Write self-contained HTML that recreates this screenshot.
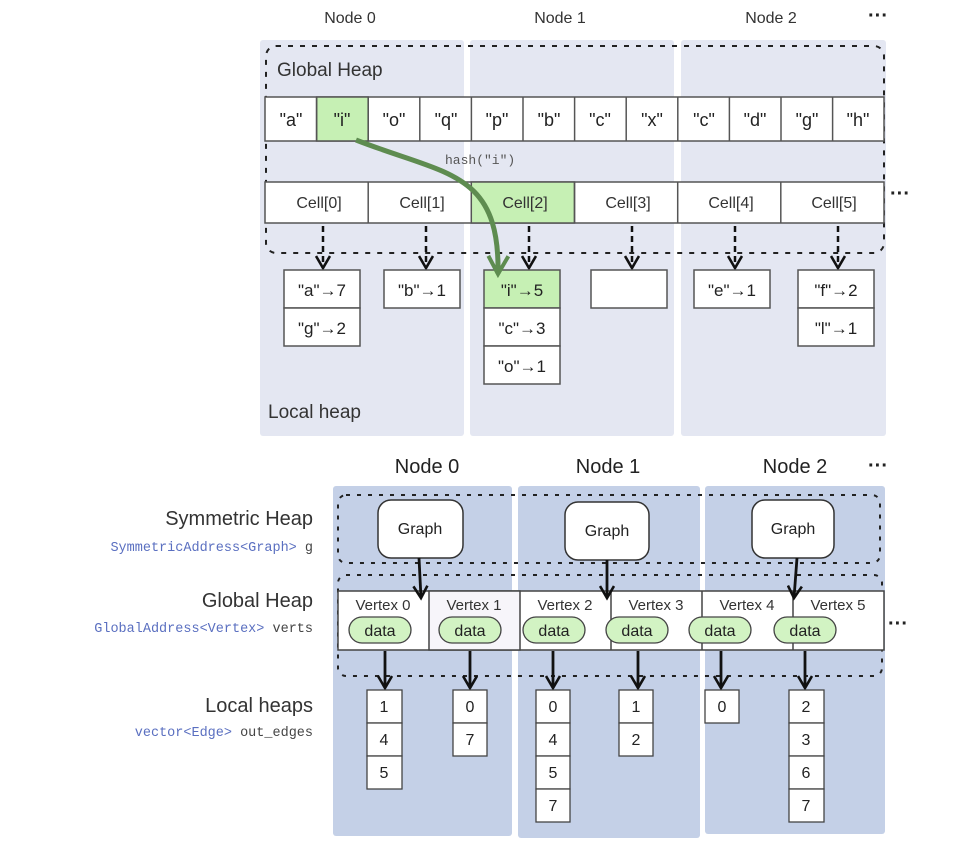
<!DOCTYPE html>
<html><head><meta charset="utf-8"><style>
html,body{margin:0;padding:0;background:#fff;}
svg{display:block;font-family:"Liberation Sans",Arial,sans-serif;}
.m{font-family:"Liberation Mono",monospace;}
</style></head><body>
<svg width="956" height="845" viewBox="0 0 956 845" xmlns="http://www.w3.org/2000/svg">
<defs>
<marker id="ah" markerWidth="16" markerHeight="16" refX="13" refY="8" orient="auto" markerUnits="userSpaceOnUse" viewBox="0 0 16 16">
<path d="M1,1 L13,8 L1,15" fill="none" stroke="#111" stroke-width="2.6"/></marker>
<marker id="ag" markerWidth="24" markerHeight="24" refX="20" refY="12" orient="auto" markerUnits="userSpaceOnUse" viewBox="0 0 24 24">
<path d="M2,2 L20,12 L2,22" fill="none" stroke="#5e8c50" stroke-width="4"/></marker>
</defs>
<g font-size="16" fill="#333" text-anchor="middle">
<text x="350" y="23">Node 0</text><text x="560" y="23">Node 1</text><text x="771" y="23">Node 2</text>
</g>
<text x="868" y="22" font-size="20" font-weight="bold" fill="#222">···</text>
<rect x="260" y="40" width="204" height="396" rx="3" fill="#e4e7f2"/>
<rect x="470" y="40" width="204" height="396" rx="3" fill="#e4e7f2"/>
<rect x="681" y="40" width="205" height="396" rx="3" fill="#e4e7f2"/>
<rect x="266" y="46" width="618" height="207" rx="10" fill="none" stroke="#222" stroke-width="2" stroke-dasharray="5,7"/>
<text x="277" y="76" font-size="19" fill="#333">Global Heap</text>
<g stroke="#555" stroke-width="1.5" fill="#fff">
<rect x="265" y="97" width="619" height="44"/>
<rect x="316.6" y="97" width="51.6" height="44" fill="#c6f0b4"/>
</g>
<g stroke="#555" stroke-width="1.5">
<line x1="316.6" y1="97" x2="316.6" y2="141"/><line x1="368.2" y1="97" x2="368.2" y2="141"/><line x1="419.8" y1="97" x2="419.8" y2="141"/><line x1="471.4" y1="97" x2="471.4" y2="141"/><line x1="523" y1="97" x2="523" y2="141"/><line x1="574.6" y1="97" x2="574.6" y2="141"/><line x1="626.2" y1="97" x2="626.2" y2="141"/><line x1="677.8" y1="97" x2="677.8" y2="141"/><line x1="729.4" y1="97" x2="729.4" y2="141"/><line x1="781" y1="97" x2="781" y2="141"/><line x1="832.6" y1="97" x2="832.6" y2="141"/>
</g>
<g font-size="18" fill="#222" text-anchor="middle">
<text x="291" y="126">"a"</text><text x="342" y="126">"i"</text><text x="394" y="126">"o"</text><text x="446" y="126">"q"</text><text x="497" y="126">"p"</text><text x="549" y="126">"b"</text><text x="600" y="126">"c"</text><text x="652" y="126">"x"</text><text x="704" y="126">"c"</text><text x="755" y="126">"d"</text><text x="807" y="126">"g"</text><text x="858" y="126">"h"</text>
</g>
<text x="445" y="164" class="m" font-size="13" fill="#555">hash("i")</text>
<g stroke="#555" stroke-width="1.5" fill="#fff">
<rect x="265" y="182" width="619" height="41"/>
<rect x="471.3" y="182" width="103.2" height="41" fill="#c6f0b4"/>
<line x1="368.2" y1="182" x2="368.2" y2="223"/><line x1="574.5" y1="182" x2="574.5" y2="223"/><line x1="677.7" y1="182" x2="677.7" y2="223"/><line x1="780.8" y1="182" x2="780.8" y2="223"/>
</g>
<g font-size="16" fill="#333" text-anchor="middle">
<text x="319" y="208">Cell[0]</text><text x="422" y="208">Cell[1]</text><text x="525" y="208">Cell[2]</text><text x="628" y="208">Cell[3]</text><text x="731" y="208">Cell[4]</text><text x="834" y="208">Cell[5]</text>
</g>
<text x="890" y="200" font-size="20" font-weight="bold" fill="#222">···</text>
<g stroke="#111" stroke-width="2.5" stroke-dasharray="6,4" marker-end="url(#ah)">
<line x1="323" y1="226" x2="323" y2="268"/><line x1="426" y1="226" x2="426" y2="268"/><line x1="529" y1="226" x2="529" y2="268"/><line x1="632" y1="226" x2="632" y2="268"/><line x1="735" y1="226" x2="735" y2="268"/><line x1="838" y1="226" x2="838" y2="268"/>
</g>
<g stroke="#555" stroke-width="1.5" fill="#fff">
<rect x="284" y="270" width="76" height="38"/><rect x="284" y="308" width="76" height="38"/>
<rect x="384" y="270" width="76" height="38"/>
<rect x="484" y="270" width="76" height="38" fill="#c6f0b4"/><rect x="484" y="308" width="76" height="38"/><rect x="484" y="346" width="76" height="38"/>
<rect x="591" y="270" width="76" height="38"/>
<rect x="694" y="270" width="76" height="38"/>
<rect x="798" y="270" width="76" height="38"/><rect x="798" y="308" width="76" height="38"/>
</g>
<g font-size="17" fill="#222" text-anchor="middle">
<text x="322" y="296">"a"→7</text><text x="322" y="334">"g"→2</text>
<text x="422" y="296">"b"→1</text>
<text x="522" y="296">"i"→5</text><text x="522" y="334">"c"→3</text><text x="522" y="372">"o"→1</text>
<text x="732" y="296">"e"→1</text>
<text x="836" y="296">"f"→2</text><text x="836" y="334">"l"→1</text>
</g>
<path d="M356 140 C 445 175, 500 170, 498 274" fill="none" stroke="#5e8c50" stroke-width="5" marker-end="url(#ag)"/>
<text x="268" y="418" font-size="19" fill="#333">Local heap</text>

<g font-size="20" fill="#222" text-anchor="middle">
<text x="427" y="473">Node 0</text><text x="608" y="473">Node 1</text><text x="795" y="473">Node 2</text>
</g>
<text x="868" y="472" font-size="20" font-weight="bold" fill="#222">···</text>
<rect x="333" y="486" width="179" height="350" rx="3" fill="#c4d0e7"/>
<rect x="518" y="486" width="182" height="352" rx="3" fill="#c4d0e7"/>
<rect x="705" y="486" width="180" height="348" rx="3" fill="#c4d0e7"/>
<g fill="none" stroke="#222" stroke-width="2" stroke-dasharray="4,7">
<rect x="338" y="495" width="542" height="68" rx="8"/>
<rect x="338" y="575" width="544" height="101" rx="8"/>
</g>
<g fill="#fff" stroke="#333" stroke-width="1.5">
<rect x="378" y="500" width="85" height="58" rx="13"/>
<rect x="565" y="502" width="84" height="58" rx="13"/>
<rect x="752" y="500" width="82" height="58" rx="13"/>
</g>
<g font-size="16" fill="#222" text-anchor="middle">
<text x="420" y="534">Graph</text><text x="607" y="536">Graph</text><text x="793" y="534">Graph</text>
</g>
<g fill="#fff" stroke="#444" stroke-width="1.5">
<rect x="338" y="591" width="546" height="59"/>
<rect x="429" y="591" width="91" height="59" fill="#f7f5fa"/>
<line x1="611" y1="591" x2="611" y2="650"/><line x1="702" y1="591" x2="702" y2="650"/><line x1="793" y1="591" x2="793" y2="650"/>
</g>
<g font-size="15" fill="#333" text-anchor="middle">
<text x="383" y="610">Vertex 0</text><text x="474" y="610">Vertex 1</text><text x="565" y="610">Vertex 2</text><text x="656" y="610">Vertex 3</text><text x="747" y="610">Vertex 4</text><text x="838" y="610">Vertex 5</text>
</g>
<g fill="#d2f3c3" stroke="#444" stroke-width="1.3">
<rect x="349" y="617" width="62" height="26" rx="13"/><rect x="439" y="617" width="62" height="26" rx="13"/><rect x="523" y="617" width="62" height="26" rx="13"/><rect x="606" y="617" width="62" height="26" rx="13"/><rect x="689" y="617" width="62" height="26" rx="13"/><rect x="774" y="617" width="62" height="26" rx="13"/>
</g>
<g font-size="16" fill="#222" text-anchor="middle">
<text x="380" y="636">data</text><text x="470" y="636">data</text><text x="554" y="636">data</text><text x="637" y="636">data</text><text x="720" y="636">data</text><text x="805" y="636">data</text>
</g>
<text x="888" y="630" font-size="20" font-weight="bold" fill="#222">···</text>
<g stroke="#111" stroke-width="2.8" marker-end="url(#ah)">
<line x1="419" y1="558" x2="421" y2="598"/><line x1="607" y1="560" x2="607" y2="598"/><line x1="797" y1="558" x2="794" y2="598"/>
<line x1="385" y1="651" x2="385" y2="688"/><line x1="470" y1="651" x2="470" y2="688"/><line x1="553" y1="651" x2="553" y2="688"/><line x1="638" y1="651" x2="638" y2="688"/><line x1="721" y1="651" x2="721" y2="688"/><line x1="805" y1="651" x2="805" y2="688"/>
</g>
<g fill="#fff" stroke="#444" stroke-width="1.3">
<rect x="367" y="690" width="35" height="33"/><rect x="367" y="723" width="35" height="33"/><rect x="367" y="756" width="35" height="33"/>
<rect x="453" y="690" width="34" height="33"/><rect x="453" y="723" width="34" height="33"/>
<rect x="536" y="690" width="34" height="33"/><rect x="536" y="723" width="34" height="33"/><rect x="536" y="756" width="34" height="33"/><rect x="536" y="789" width="34" height="33"/>
<rect x="619" y="690" width="34" height="33"/><rect x="619" y="723" width="34" height="33"/>
<rect x="705" y="690" width="34" height="33"/>
<rect x="789" y="690" width="35" height="33"/><rect x="789" y="723" width="35" height="33"/><rect x="789" y="756" width="35" height="33"/><rect x="789" y="789" width="35" height="33"/>
</g>
<g font-size="16" fill="#222" text-anchor="middle">
<text x="384" y="712">1</text><text x="384" y="745">4</text><text x="384" y="778">5</text>
<text x="470" y="712">0</text><text x="470" y="745">7</text>
<text x="553" y="712">0</text><text x="553" y="745">4</text><text x="553" y="778">5</text><text x="553" y="811">7</text>
<text x="636" y="712">1</text><text x="636" y="745">2</text>
<text x="722" y="712">0</text>
<text x="806" y="712">2</text><text x="806" y="745">3</text><text x="806" y="778">6</text><text x="806" y="811">7</text>
</g>
<g text-anchor="end">
<text x="313" y="525" font-size="20" fill="#333">Symmetric Heap</text>
<text x="313" y="551" class="m" font-size="13.5"><tspan fill="#5a6fc0">SymmetricAddress&lt;Graph&gt;</tspan><tspan fill="#444"> g</tspan></text>
<text x="313" y="607" font-size="20" fill="#333">Global Heap</text>
<text x="313" y="632" class="m" font-size="13.5"><tspan fill="#5a6fc0">GlobalAddress&lt;Vertex&gt;</tspan><tspan fill="#444"> verts</tspan></text>
<text x="313" y="712" font-size="20" fill="#333">Local heaps</text>
<text x="313" y="736" class="m" font-size="13.5"><tspan fill="#5a6fc0">vector&lt;Edge&gt;</tspan><tspan fill="#444"> out_edges</tspan></text>
</g>
</svg>
</body></html>
